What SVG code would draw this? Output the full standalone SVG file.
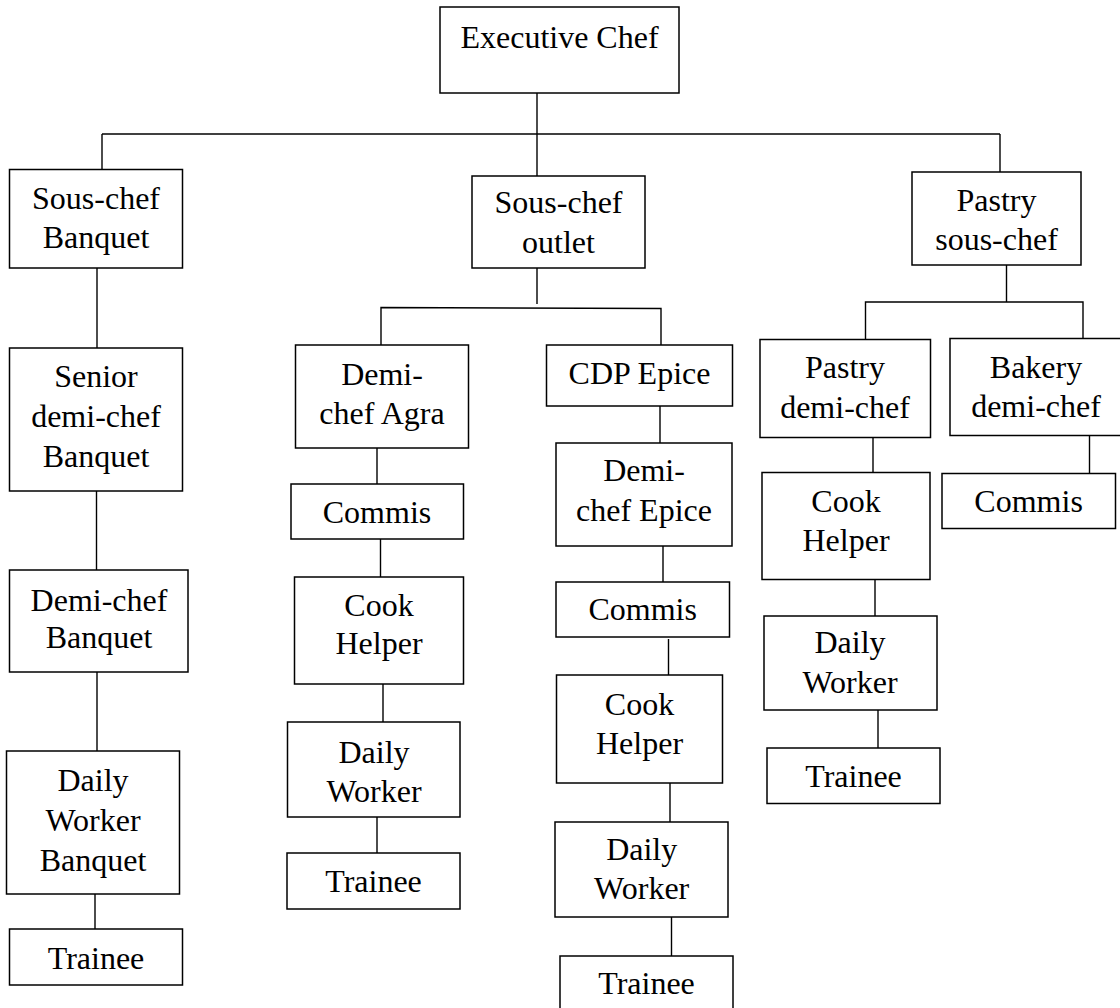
<svg xmlns="http://www.w3.org/2000/svg" width="1120" height="1008" viewBox="0 0 1120 1008">
<style>
rect.b{fill:#fff;stroke:#000;stroke-width:1.5}
text{font-family:"Liberation Serif","Times New Roman",serif;font-size:32px;fill:#000;text-anchor:middle}
#connectors line,#connectors path{stroke:#000;stroke-width:1.4;fill:none}
</style>
<rect width="1120" height="1008" fill="#fff"/>
<g id="connectors">
<line x1="537" y1="93" x2="537" y2="176"/>
<line x1="102" y1="134" x2="1000" y2="134"/>
<line x1="102" y1="134" x2="102" y2="169.5"/>
<line x1="1000" y1="134" x2="1000" y2="172"/>
<line x1="97" y1="268" x2="97" y2="348"/>
<line x1="96.5" y1="491" x2="96.5" y2="570"/>
<line x1="97" y1="672" x2="97" y2="751"/>
<line x1="95" y1="891" x2="95" y2="929"/>
<line x1="537" y1="268" x2="537" y2="304"/>
<path d="M381 345V307.5L661 308.5V345"/>
<line x1="377" y1="448" x2="377" y2="484"/>
<line x1="380.5" y1="539" x2="380.5" y2="577"/>
<line x1="383" y1="684" x2="383" y2="722"/>
<line x1="377" y1="817" x2="377" y2="853"/>
<line x1="660" y1="406" x2="660" y2="443"/>
<line x1="663" y1="546" x2="663" y2="582"/>
<line x1="668.5" y1="639" x2="668.5" y2="675"/>
<line x1="670" y1="783" x2="670" y2="822"/>
<line x1="671.5" y1="917" x2="671.5" y2="956"/>
<line x1="1006.5" y1="265" x2="1006.5" y2="302"/>
<path d="M865.5 339.5V302H1083V338.5"/>
<line x1="873" y1="437.5" x2="873" y2="472.5"/>
<line x1="875" y1="579.5" x2="875" y2="616"/>
<line x1="878" y1="710" x2="878" y2="748"/>
<line x1="1089.5" y1="435.5" x2="1089.5" y2="473.5"/>
</g>
<g id="n-exec"><rect class="b" x="440" y="7" width="239" height="86"/><text x="559.5" y="48">Executive Chef</text></g>
<g id="n-scb"><rect class="b" x="9.5" y="169.5" width="173" height="98.5"/><text x="96" y="209">Sous-chef</text><text x="96" y="248">Banquet</text></g>
<g id="n-sco"><rect class="b" x="472" y="176" width="173" height="92"/><text x="558.5" y="213">Sous-chef</text><text x="558.5" y="253">outlet</text></g>
<g id="n-psc"><rect class="b" x="912" y="172" width="169" height="93"/><text x="996.5" y="211">Pastry</text><text x="996.5" y="250">sous-chef</text></g>
<g id="n-sdcb"><rect class="b" x="9.5" y="348" width="173" height="143"/><text x="96" y="387">Senior</text><text x="96" y="427">demi-chef</text><text x="96" y="467">Banquet</text></g>
<g id="n-dcb"><rect class="b" x="9.5" y="570" width="178.5" height="102"/><text x="99" y="611">Demi-chef</text><text x="99" y="648">Banquet</text></g>
<g id="n-dwb"><rect class="b" x="6.5" y="751" width="173" height="143"/><text x="93" y="791">Daily</text><text x="93" y="831">Worker</text><text x="93" y="871">Banquet</text></g>
<g id="n-tl"><rect class="b" x="9.5" y="929" width="173" height="56"/><text x="96" y="969">Trainee</text></g>
<g id="n-dca"><rect class="b" x="295.5" y="345" width="173" height="103"/><text x="382" y="385">Demi-</text><text x="382" y="424">chef Agra</text></g>
<g id="n-ca"><rect class="b" x="291" y="484" width="172.5" height="55"/><text x="377" y="523">Commis</text></g>
<g id="n-cha"><rect class="b" x="294.5" y="577" width="169" height="107"/><text x="379" y="616">Cook</text><text x="379" y="654">Helper</text></g>
<g id="n-dwa"><rect class="b" x="287.5" y="722" width="172.5" height="95"/><text x="374" y="763">Daily</text><text x="374" y="802">Worker</text></g>
<g id="n-ta"><rect class="b" x="287" y="853" width="173" height="56"/><text x="373.5" y="892">Trainee</text></g>
<g id="n-cdp"><rect class="b" x="546.5" y="345" width="186" height="61"/><text x="639.5" y="384">CDP Epice</text></g>
<g id="n-dce"><rect class="b" x="556" y="443" width="176" height="103"/><text x="644" y="481">Demi-</text><text x="644" y="521">chef Epice</text></g>
<g id="n-ce"><rect class="b" x="556" y="582" width="173.5" height="55"/><text x="642.7" y="620">Commis</text></g>
<g id="n-che"><rect class="b" x="556.5" y="675" width="166" height="108"/><text x="639.5" y="715">Cook</text><text x="639.5" y="754">Helper</text></g>
<g id="n-dwe"><rect class="b" x="555" y="822" width="173" height="95"/><text x="641.7" y="860">Daily</text><text x="641.7" y="899">Worker</text></g>
<g id="n-te"><rect class="b" x="560" y="956" width="173" height="60"/><text x="646.5" y="994">Trainee</text></g>
<g id="n-pdc"><rect class="b" x="760" y="339.5" width="170.5" height="98"/><text x="845" y="378">Pastry</text><text x="845" y="418">demi-chef</text></g>
<g id="n-bdc"><rect class="b" x="950" y="338.5" width="174" height="97"/><text x="1036" y="378">Bakery</text><text x="1036" y="417">demi-chef</text></g>
<g id="n-chp"><rect class="b" x="762" y="472.5" width="168" height="107"/><text x="846" y="512">Cook</text><text x="846" y="551">Helper</text></g>
<g id="n-cb"><rect class="b" x="942" y="473.5" width="173.5" height="55"/><text x="1028.6" y="512">Commis</text></g>
<g id="n-dwp"><rect class="b" x="764" y="616" width="173" height="94"/><text x="850" y="653">Daily</text><text x="850" y="693">Worker</text></g>
<g id="n-tp"><rect class="b" x="767" y="748" width="173" height="55.5"/><text x="853.5" y="787">Trainee</text></g>
</svg>
